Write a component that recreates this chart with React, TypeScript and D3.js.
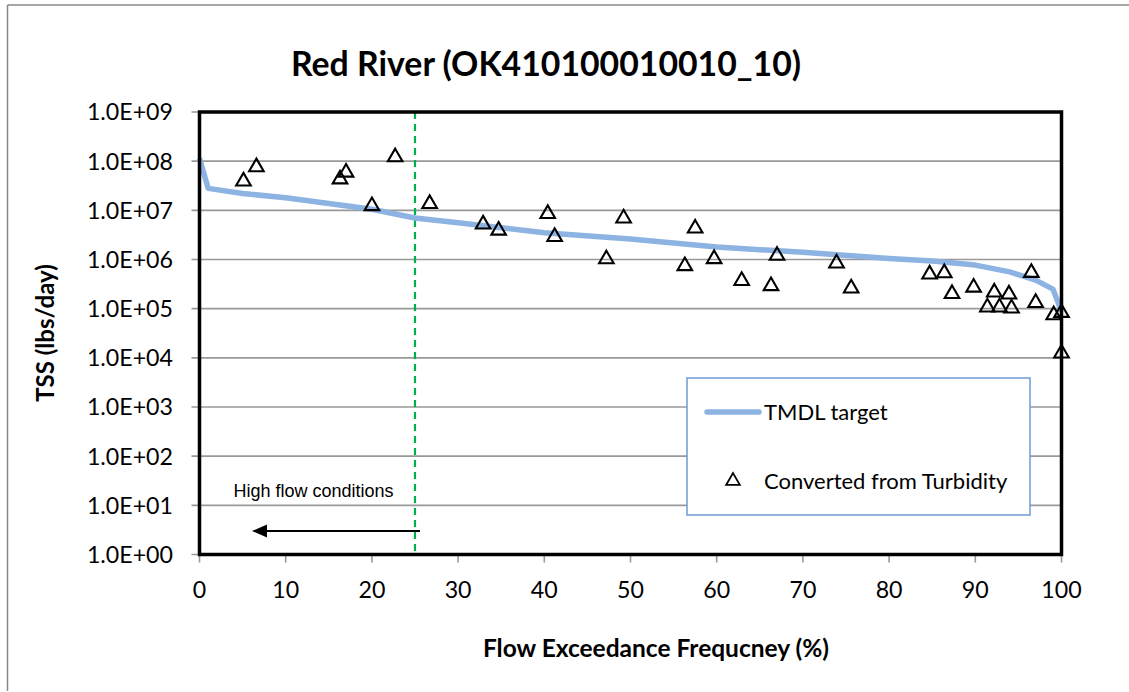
import React from "react";
import * as d3 from "d3";

const title = "Red River (OK410100010010_10)";
const xTicks = [0, 10, 20, 30, 40, 50, 60, 70, 80, 90, 100];
const yTicks = [1e0, 1e1, 1e2, 1e3, 1e4, 1e5, 1e6, 1e7, 1e8, 1e9];

// TMDL target curve (flow exceedance %, load lbs/day)
const tmdlPct = [0, 1, 5, 10, 20, 25, 30, 40, 50, 60, 70, 80, 85, 90, 94, 97, 99, 100];
const tmdlVal = [1.15e8, 2.8e7, 2.2e7, 1.8e7, 1.05e7, 7.0e6, 5.6e6, 3.5e6, 2.6e6, 1.8e6, 1.4e6, 1.05e6, 9.3e5, 7.7e5, 5.6e5, 3.8e5, 2.5e5, 9.0e4];

// Converted from turbidity observations
const obsPct = [5.1, 6.6, 16.3, 17.0, 20.0, 22.7, 26.7, 32.9, 34.7, 40.4, 41.2, 47.2, 49.2, 56.3, 57.5, 59.7, 62.9, 66.3, 67.0, 73.9, 75.6, 84.7, 86.4, 87.3, 89.8, 91.4, 92.2, 92.8, 93.9, 94.2, 96.5, 97.0, 99.1, 100, 100];
const obsVal = [3.9e7, 7.6e7, 4.3e7, 5.9e7, 1.23e7, 1.21e8, 1.36e7, 5.2e6, 3.9e6, 8.5e6, 2.9e6, 1.02e6, 6.9e6, 7.4e5, 4.3e6, 1.03e6, 3.7e5, 2.9e5, 1.2e6, 8.4e5, 2.6e5, 5.0e5, 5.3e5, 2.0e5, 2.7e5, 1.07e5, 2.15e5, 1.07e5, 1.96e5, 1.02e5, 5.4e5, 1.32e5, 7.4e4, 8.3e4, 1.24e4];

const cutoffPct = 25;

const fmt = (v: number) => {
  const e = Math.round(Math.log10(v));
  return "1.0E+" + String(e).padStart(2, "0");
};

export default function App() {
  const W = 1129, H = 692;
  const L = 199.5, R = 1061.5, T = 112, B = 554.5;
  const x = d3.scaleLinear().domain([0, 100]).range([L, R]);
  const y = d3.scaleLog().domain([1, 1e9]).range([B, T]);

  const line = d3.line<number>().x((_, i) => x(tmdlPct[i])).y((_, i) => y(tmdlVal[i]));
  const linePath = line(tmdlPct) || "";
  const tri = d3.symbol(d3.symbolTriangle, 92)() || "";
  const triLeg = d3.symbol(d3.symbolTriangle, 80)() || "";
  const font = "Lato, 'Open Sans', sans-serif";
  const blue = "#8db3e2";

  return (
    <svg width={W} height={H} style={{ position: "absolute", left: 0, top: 0, background: "#fff" }}>
      <rect x={0} y={0} width={W} height={H} fill="#fff" />
      {/* outer chart border */}
      <line x1={7.5} y1={5} x2={7.5} y2={691} stroke="#888" strokeWidth={1.5} />
      <line x1={7.5} y1={5} x2={W} y2={5} stroke="#888" strokeWidth={1.5} />

      <text x={546} y={76} textAnchor="middle" fontFamily={font} fontWeight="bold" fontSize={33.8} fill="#000">{title}</text>

      {/* gridlines */}
      {yTicks.map((t) => (
        <line key={"g" + t} x1={L - 8} x2={R} y1={y(t)} y2={y(t)} stroke="#999" strokeWidth={1.6} />
      ))}
      {/* y tick labels */}
      {yTicks.map((t) => (
        <text key={"yl" + t} x={173} y={y(t)} dy="0.36em" textAnchor="end" fontFamily={font} fontSize={23.2} fill="#000">{fmt(t)}</text>
      ))}
      {/* x ticks */}
      {xTicks.map((t) => (
        <g key={"x" + t}>
          <line x1={x(t)} x2={x(t)} y1={B} y2={B + 8} stroke="#999" strokeWidth={1.6} />
          <text x={x(t)} y={598} textAnchor="middle" fontFamily={font} fontSize={23.2} fill="#000">{t}</text>
        </g>
      ))}

      {/* cutoff dashed line */}
      <line x1={x(cutoffPct)} x2={x(cutoffPct)} y1={T} y2={B} stroke="#00b050" strokeWidth={2.2} strokeDasharray="7,5" />

      {/* TMDL line */}
      <path d={linePath} fill="none" stroke={blue} strokeWidth={5.5} strokeLinejoin="round" />

      {/* observations */}
      {obsPct.map((p, i) => (
        <path key={"o" + i} d={tri} transform={`translate(${x(p)},${y(obsVal[i])})`} fill="none" stroke="#000" strokeWidth={2.1} />
      ))}

      {/* plot frame */}
      <rect x={L} y={T} width={R - L} height={B - T} fill="none" stroke="#000" strokeWidth={3.5} />

      {/* high flow annotation */}
      <text x={313.5} y={497} textAnchor="middle" fontFamily="'Liberation Sans', Arial, sans-serif" fontSize={18} fill="#000">High flow conditions</text>
      <line x1={420} x2={262} y1={531} y2={531} stroke="#000" strokeWidth={2} />
      <path d="M252,531 L267,524.5 L267,537.5 Z" fill="#000" />

      {/* legend */}
      <rect x={687} y={378} width={343} height={137} fill="#fff" stroke="#6f9ad6" strokeWidth={1.5} />
      <line x1={707} x2={759} y1={412} y2={412} stroke={blue} strokeWidth={5.5} strokeLinecap="round" />
      <text x={764} y={412} dy="0.36em" fontFamily={font} fontSize={22} fill="#000">TMDL target</text>
      <path d={triLeg} transform="translate(733,481)" fill="none" stroke="#000" strokeWidth={1.8} />
      <text x={764} y={481} dy="0.36em" fontFamily={font} fontSize={22} fill="#000">Converted from Turbidity</text>

      {/* axis titles */}
      <text transform="translate(54,333) rotate(-90)" textAnchor="middle" fontFamily={font} fontWeight="bold" fontSize={24} fill="#000">TSS (lbs/day)</text>
      <text x={656} y={657} textAnchor="middle" fontFamily={font} fontWeight="bold" fontSize={24.5} fill="#000">Flow Exceedance Frequcney (%)</text>
    </svg>
  );
}
